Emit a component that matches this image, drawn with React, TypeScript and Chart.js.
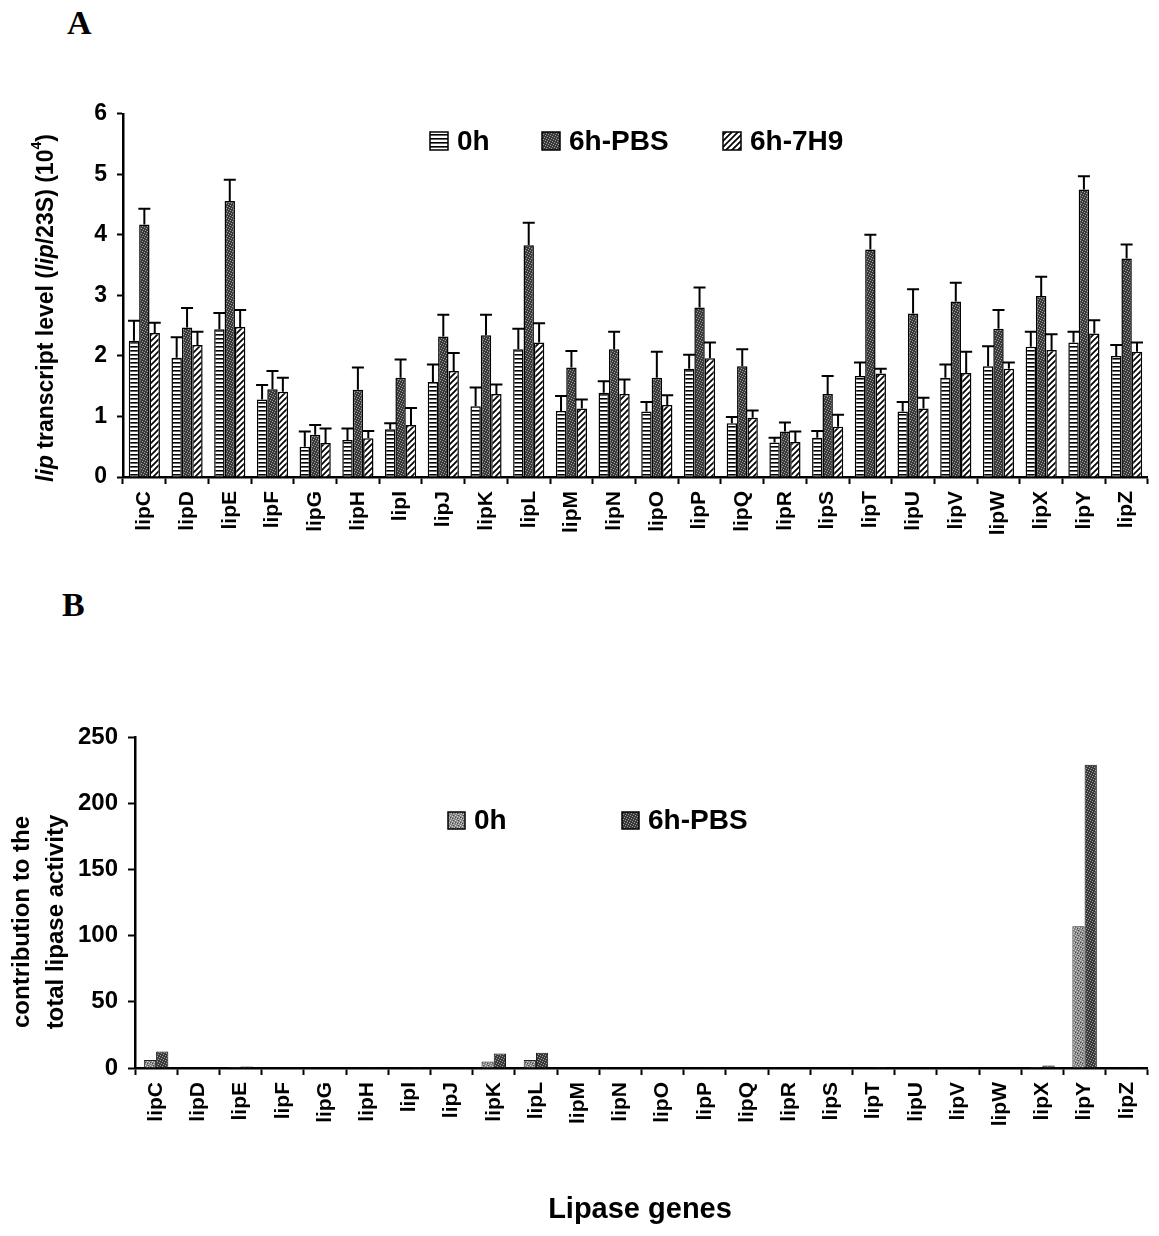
import React, { useEffect, useRef } from "react";
import { Chart, registerables } from "chart.js";
Chart.register(...registerables);

const FONT = "'Liberation Sans', Arial, Helvetica, sans-serif";

const genes = ["lipC","lipD","lipE","lipF","lipG","lipH","lipI","lipJ","lipK","lipL","lipM","lipN","lipO","lipP","lipQ","lipR","lipS","lipT","lipU","lipV","lipW","lipX","lipY","lipZ"];

// Panel A: lip transcript level (10^4)
const a0h =     [2.25,1.97,2.44,1.28,0.50,0.61,0.79,1.57,1.17,2.11,1.09,1.39,1.08,1.79,0.89,0.57,0.65,1.67,1.08,1.64,1.83,2.15,2.22,2.00];
const a0hErr =  [0.33,0.34,0.27,0.24,0.25,0.19,0.10,0.29,0.31,0.34,0.25,0.19,0.16,0.23,0.10,0.08,0.11,0.22,0.16,0.22,0.33,0.25,0.18,0.18];
const aPBS =    [4.17,2.47,4.56,1.45,0.70,1.44,1.64,2.32,2.34,3.83,1.81,2.11,1.64,2.80,1.83,0.75,1.37,3.76,2.70,2.90,2.45,2.99,4.75,3.61];
const aPBSErr = [0.26,0.32,0.35,0.30,0.16,0.37,0.30,0.36,0.34,0.37,0.27,0.29,0.43,0.33,0.28,0.15,0.30,0.24,0.40,0.31,0.31,0.32,0.22,0.23];
const a7H9 =    [2.38,2.18,2.48,1.41,0.56,0.64,0.86,1.75,1.37,2.22,1.13,1.37,1.19,1.96,0.98,0.58,0.83,1.71,1.13,1.72,1.79,2.10,2.37,2.07];
const a7H9Err = [0.17,0.22,0.28,0.23,0.24,0.12,0.28,0.30,0.16,0.32,0.15,0.24,0.16,0.26,0.12,0.17,0.20,0.08,0.18,0.35,0.10,0.26,0.22,0.15];

// Panel B: contribution to the total lipase activity
const b0h =  [6,0.3,0.8,0.3,0.3,0.3,0.5,0.3,5,6,0.3,0.3,0.3,0.3,0.3,0.3,0.3,0.3,0.3,0.3,0.3,0.8,107,0.3];
const bPBS = [12.5,0.5,1.2,0.6,0.4,0.6,0.8,0.5,11,11.5,0.5,0.5,0.5,0.6,0.5,0.3,0.5,0.7,0.5,0.6,0.5,1.8,229,0.6];

const legendA = ["0h", "6h-PBS", "6h-7H9"];
const legendB = ["0h", "6h-PBS"];

function makePattern(kind: string): CanvasPattern | string {
  const c = document.createElement("canvas");
  const ctx = c.getContext("2d");
  if (!ctx) return "#888";
  if (kind === "hstripe") {
    c.width = 4; c.height = 4;
    ctx.fillStyle = "#fff"; ctx.fillRect(0, 0, 4, 4);
    ctx.fillStyle = "#000"; ctx.fillRect(0, 0, 4, 1.6);
  } else if (kind === "diag") {
    c.width = 6; c.height = 6;
    ctx.fillStyle = "#fff"; ctx.fillRect(0, 0, 6, 6);
    ctx.strokeStyle = "#000"; ctx.lineWidth = 1.7;
    ctx.beginPath();
    ctx.moveTo(0, 6); ctx.lineTo(6, 0);
    ctx.moveTo(-1, 1); ctx.lineTo(1, -1);
    ctx.moveTo(5, 7); ctx.lineTo(7, 5);
    ctx.stroke();
  } else if (kind === "dark") {
    c.width = 5; c.height = 5;
    ctx.fillStyle = "#3a3a3a"; ctx.fillRect(0, 0, 5, 5);
    ctx.fillStyle = "#a0a0a0";
    [[0,0],[2,1],[4,2],[1,3],[3,4]].forEach(([x, y]) => ctx.fillRect(x, y, 1, 1));
  } else if (kind === "mid") {
    c.width = 5; c.height = 5;
    ctx.fillStyle = "#8a8a8a"; ctx.fillRect(0, 0, 5, 5);
    ctx.fillStyle = "#cfcfcf";
    [[0,0],[2,1],[4,2],[1,3],[3,4]].forEach(([x, y]) => ctx.fillRect(x, y, 1, 1));
    ctx.fillStyle = "#444";
    [[3,0],[0,2],[2,3]].forEach(([x, y]) => ctx.fillRect(x, y, 1, 1));
  }
  return ctx.createPattern(c, "repeat") || "#888";
}

export default function App() {
  const refA = useRef<HTMLCanvasElement>(null);
  const refB = useRef<HTMLCanvasElement>(null);

  useEffect(() => {
    document.body.style.margin = "0";
    const pH = makePattern("hstripe");
    const pD = makePattern("dark");
    const pG = makePattern("diag");
    const pM = makePattern("mid");

    const errorBarPlugin = {
      id: "errBars",
      afterDatasetsDraw(chart: any) {
        const ctx = chart.ctx;
        const ys = chart.scales.y;
        chart.data.datasets.forEach((ds: any, i: number) => {
          const meta = chart.getDatasetMeta(i);
          meta.data.forEach((el: any, j: number) => {
            const v = ds.data[j];
            const e = ds.errors[j];
            const x = el.x;
            const y0 = el.y;
            const y1 = ys.getPixelForValue(v + e);
            ctx.save();
            ctx.strokeStyle = "#000";
            ctx.lineWidth = 2;
            ctx.beginPath();
            ctx.moveTo(x, y0); ctx.lineTo(x, y1);
            ctx.moveTo(x - 6, y1); ctx.lineTo(x + 6, y1);
            ctx.stroke();
            ctx.restore();
          });
        });
      },
    };

    const drawLegend = (ctx: CanvasRenderingContext2D, items: any[], boxTop: number, boxSize: number, fontSize: number) => {
      ctx.save();
      items.forEach((it) => {
        ctx.fillStyle = it.fill;
        ctx.fillRect(it.x, boxTop, boxSize, boxSize);
        ctx.strokeStyle = "#000";
        ctx.lineWidth = 1.5;
        ctx.strokeRect(it.x, boxTop, boxSize, boxSize);
        ctx.fillStyle = "#000";
        ctx.font = `bold ${fontSize}px ${FONT}`;
        ctx.textAlign = "left";
        ctx.textBaseline = "middle";
        ctx.fillText(it.label, it.x + boxSize + 9, boxTop + boxSize / 2 + 1);
      });
      ctx.restore();
    };

    const annotA = {
      id: "annotA",
      afterDraw(chart: any) {
        const ctx = chart.ctx as CanvasRenderingContext2D;
        drawLegend(ctx, [
          { x: 430, label: legendA[0], fill: pH },
          { x: 542, label: legendA[1], fill: pD },
          { x: 723, label: legendA[2], fill: pG },
        ], 42, 18, 28);
        // y title with mixed fonts
        const segs: [string, string, number][] = [
          ["lip", `italic bold 23px ${FONT}`, 0],
          [" transcript level (", `bold 23px ${FONT}`, 0],
          ["lip", `italic bold 23px ${FONT}`, 0],
          ["/23S) (10", `bold 23px ${FONT}`, 0],
          ["4", `bold 14px ${FONT}`, -10],
          [")", `bold 23px ${FONT}`, 0],
        ];
        ctx.save();
        let total = 0;
        segs.forEach(([t, f]) => { ctx.font = f; total += ctx.measureText(t).width; });
        ctx.translate(47, 218);
        ctx.rotate(-Math.PI / 2);
        ctx.fillStyle = "#000";
        ctx.textBaseline = "middle";
        ctx.textAlign = "left";
        let x = -total / 2;
        segs.forEach(([t, f, dy]) => {
          ctx.font = f;
          ctx.fillText(t, x, dy);
          x += ctx.measureText(t).width;
        });
        ctx.restore();
      },
    };

    const annotB = {
      id: "annotB",
      afterDraw(chart: any) {
        const ctx = chart.ctx as CanvasRenderingContext2D;
        drawLegend(ctx, [
          { x: 448, label: legendB[0], fill: pM },
          { x: 622, label: legendB[1], fill: pD },
        ], 212, 17, 28);
        ctx.save();
        ctx.fillStyle = "#000";
        ctx.font = `bold 24px ${FONT}`;
        ctx.textAlign = "center";
        ctx.textBaseline = "middle";
        ctx.save();
        ctx.translate(22, 322);
        ctx.rotate(-Math.PI / 2);
        ctx.fillText("contribution to the", 0, 0);
        ctx.restore();
        ctx.save();
        ctx.translate(56, 322);
        ctx.rotate(-Math.PI / 2);
        ctx.fillText("total lipase activity", 0, 0);
        ctx.restore();
        ctx.font = `bold 29px ${FONT}`;
        ctx.textBaseline = "alphabetic";
        ctx.fillText("Lipase genes", 640, 618);
        ctx.restore();
      },
    };

    const xAxis = (h: number, size: number) => ({
      grid: { display: true, drawOnChartArea: false, drawTicks: true, tickLength: 7, tickWidth: 2, tickColor: "#000", offset: true },
      border: { color: "#000", width: 2.5 },
      ticks: { color: "#000", font: { family: FONT, size, weight: "bold" }, minRotation: 90, maxRotation: 90, padding: 7, autoSkip: false },
      afterFit: (s: any) => { s.height = h; },
    });

    const chartA = new Chart(refA.current as HTMLCanvasElement, {
      type: "bar",
      data: {
        labels: genes,
        datasets: [
          { label: legendA[0], data: a0h, errors: a0hErr, backgroundColor: pH, borderColor: "#000", borderWidth: 1.5 } as any,
          { label: legendA[1], data: aPBS, errors: aPBSErr, backgroundColor: pD, borderColor: "#000", borderWidth: 1.5 } as any,
          { label: legendA[2], data: a7H9, errors: a7H9Err, backgroundColor: pG, borderColor: "#000", borderWidth: 1.5 } as any,
        ],
      },
      options: {
        animation: false,
        responsive: false,
        maintainAspectRatio: false,
        layout: { padding: { left: 0, right: 9, top: 23, bottom: 0 } },
        plugins: { legend: { display: false }, tooltip: { enabled: false } },
        datasets: { bar: { categoryPercentage: 0.73, barPercentage: 1 } },
        scales: {
          x: xAxis(123, 21) as any,
          y: {
            min: 0, max: 6,
            ticks: { stepSize: 1, color: "#000", font: { family: FONT, size: 23, weight: "bold" }, padding: 10 },
            grid: { drawOnChartArea: false, tickLength: 6, tickWidth: 2, tickColor: "#000" },
            border: { color: "#000", width: 2.5 },
            afterFit: (s: any) => { s.width = 123; },
          } as any,
        },
      },
      plugins: [errorBarPlugin, annotA],
    });

    const chartB = new Chart(refB.current as HTMLCanvasElement, {
      type: "bar",
      data: {
        labels: genes,
        datasets: [
          { label: legendB[0], data: b0h, backgroundColor: pM, borderColor: "#222", borderWidth: 1 },
          { label: legendB[1], data: bPBS, backgroundColor: pD, borderColor: "#111", borderWidth: 1 },
        ],
      },
      options: {
        animation: false,
        responsive: false,
        maintainAspectRatio: false,
        layout: { padding: { left: 0, right: 0, top: 137, bottom: 0 } },
        plugins: { legend: { display: false }, tooltip: { enabled: false } },
        datasets: { bar: { categoryPercentage: 0.58, barPercentage: 1 } },
        scales: {
          x: xAxis(168, 21) as any,
          y: {
            min: 0, max: 250,
            ticks: { stepSize: 50, color: "#000", font: { family: FONT, size: 24, weight: "bold" }, padding: 10 },
            grid: { drawOnChartArea: false, tickLength: 7, tickWidth: 2, tickColor: "#000" },
            border: { color: "#000", width: 2.5 },
            afterFit: (s: any) => { s.width = 135; },
          } as any,
        },
      },
      plugins: [annotB],
    });

    return () => { chartA.destroy(); chartB.destroy(); };
  }, []);

  const serif = "'Liberation Serif', 'Times New Roman', serif";
  return (
    <div style={{ position: "relative", width: 1159, height: 1236, background: "#fff", overflow: "hidden" }}>
      <div style={{ position: "absolute", left: 67, top: 6, fontFamily: serif, fontWeight: "bold", fontSize: 34, lineHeight: 1 }}>A</div>
      <div style={{ position: "absolute", left: 62, top: 588, fontFamily: serif, fontWeight: "bold", fontSize: 34, lineHeight: 1 }}>B</div>
      <canvas ref={refA} width={1159} height={510} style={{ position: "absolute", left: 0, top: 90, width: 1159, height: 510 }} />
      <canvas ref={refB} width={1159} height={636} style={{ position: "absolute", left: 0, top: 600, width: 1159, height: 636 }} />
    </div>
  );
}
